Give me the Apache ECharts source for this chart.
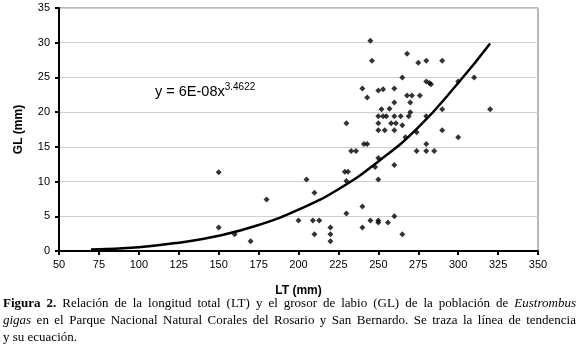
<!DOCTYPE html>
<html>
<head>
<meta charset="utf-8">
<script src="https://cdn.jsdelivr.net/npm/echarts@6/dist/echarts.min.js"></script>
<style>
	html, body { margin: 0; padding: 0; background: #fff; }
	#page { position: relative; width: 579px; height: 357px; }
	#chart { position: absolute; left: 0; top: 0; width: 579px; height: 357px; }
	.caption { position: absolute; left: 3px; width: 573px; font-family: 'Liberation Serif', 'DejaVu Serif', serif; font-size: 13px; color: #000; line-height: 17px; }
	.caption .ln { text-align: justify; text-align-last: justify; white-space: nowrap; }
	.caption .ln.last { text-align: left; text-align-last: left; }
</style>
</head>
<body>
<div id="page">
	<div id="chart"></div>
	<div class="caption" style="top:294px;">
		<div class="ln"><b>Figura 2.</b> Relación de la longitud total (LT) y el grosor de labio (GL) de la población de <i>Eustrombus</i></div>
		<div class="ln"><i>gigas</i> en el Parque Nacional Natural Corales del Rosario y San Bernardo. Se traza la línea de tendencia</div>
		<div class="ln last">y su ecuación.</div>
	</div>
</div>
<script>
// LT (mm) y GL (mm) de cada individuo
var ltValues = [150,150,160,170,180,
	200,205,209,210,210,213,
	220,220,220,
	229,231,230,230,230,
	233,236,
	240,240,240,241,243,243,
	245,246,245,248,
	250,253,252,257,
	250,253,255,260,264,269,
	250,258,261,265,
	250,254,260,
	250,250,250,250,256,
	260,260,260,260,
	265,265,267,
	268,268,271,276,270,270,
	274,274,
	275,280,290,
	280,282,283,
	280,280,280,285,
	290,290,
	300,300,310,320];
var glValues = [11.35,3.4,2.4,1.4,7.4,
	4.4,10.3,4.4,8.4,2.4,4.4,
	3.4,2.4,1.4,
	11.4,11.4,18.4,10.1,5.4,
	14.4,14.4,
	23.4,6.4,3.4,15.4,15.4,22.1,
	30.3,27.4,4.4,12.1,
	23.1,23.3,20.4,20.5,
	19.4,19.4,19.4,19.4,19.4,19.4,
	18.4,18.4,18.4,18.1,
	17.4,17.4,17.4,
	13.4,10.3,4.4,4.1,4.1,
	23.4,21.4,12.4,5.0,
	25.0,2.4,16.4,
	28.4,22.4,22.4,22.4,21.4,20.0,
	17.1,14.4,
	27.1,27.4,27.4,
	24.4,24.2,24.0,
	19.4,15.4,14.4,14.4,
	20.4,17.4,
	24.4,16.4,25.0,20.4];

// linea de tendencia (potencial)
var trendX = [70, 100, 125, 150, 175, 200, 225, 250, 275, 300, 320];
var trendY = [0.2, 0.55, 1.2, 2.2, 3.75, 5.95, 8.9, 12.9, 17.8, 24.2, 29.9];

var xTicks = {min: 50, max: 350, step: 25};
var yTicks = {min: 0, max: 35, step: 5};

var scatterData = ltValues.map(function(v, i){ return [v, glValues[i]]; });
var trendData = trendX.map(function(v, i){ return [v, trendY[i]]; });

var myChart = echarts.init(document.getElementById('chart'));
var option = {
	animation: false,
	textStyle: {fontFamily: 'Liberation Sans, Arial, sans-serif'},
	grid: {
		left: 59, right: 41, top: 8, bottom: 106,
		show: true,
		borderColor: '#707070',
		borderWidth: 1
	},
	xAxis: {
		type: 'value',
		min: xTicks.min, max: xTicks.max, interval: xTicks.step,
		name: 'LT (mm)',
		nameLocation: 'middle',
		nameGap: 34,
		nameTextStyle: {fontSize: 12, fontWeight: 'bold', color: '#000'},
		axisLine: {lineStyle: {color: '#000', width: 2}},
		axisTick: {show: true, length: 4, lineStyle: {color: '#000', width: 2}},
		axisLabel: {fontSize: 11, color: '#000', margin: 8},
		splitLine: {show: false}
	},
	yAxis: {
		type: 'value',
		min: yTicks.min, max: yTicks.max, interval: yTicks.step,
		name: 'GL (mm)',
		nameLocation: 'middle',
		nameGap: 34,
		nameTextStyle: {fontSize: 12, fontWeight: 'bold', color: '#000'},
		axisLine: {show: true, lineStyle: {color: '#000', width: 2}},
		axisTick: {show: true, length: 4, lineStyle: {color: '#000', width: 2}},
		axisLabel: {fontSize: 11, color: '#000', margin: 9},
		splitLine: {show: true, lineStyle: {color: '#d0d0d0', width: 1}}
	},
	graphic: [
		{
			type: 'text',
			left: 155, top: 82,
			style: {
				text: '{b|y = 6E-08x}{s|3.4622}',
				fill: '#000',
				rich: {
					b: {fontSize: 14.5, lineHeight: 19, fontFamily: 'Liberation Sans'},
					s: {fontSize: 10, lineHeight: 11, verticalAlign: 'top', fontFamily: 'Liberation Sans'}
				}
			}
		}
	],
	series: [
		{
			type: 'line',
			data: trendData,
			smooth: true,
			showSymbol: false,
			lineStyle: {color: '#000', width: 2.5},
			z: 2
		},
		{
			type: 'scatter',
			data: scatterData,
			symbol: 'diamond',
			symbolSize: 6,
			itemStyle: {color: '#000'},
			z: 3
		}
	]
};
myChart.setOption(option);
</script>
</body>
</html>
